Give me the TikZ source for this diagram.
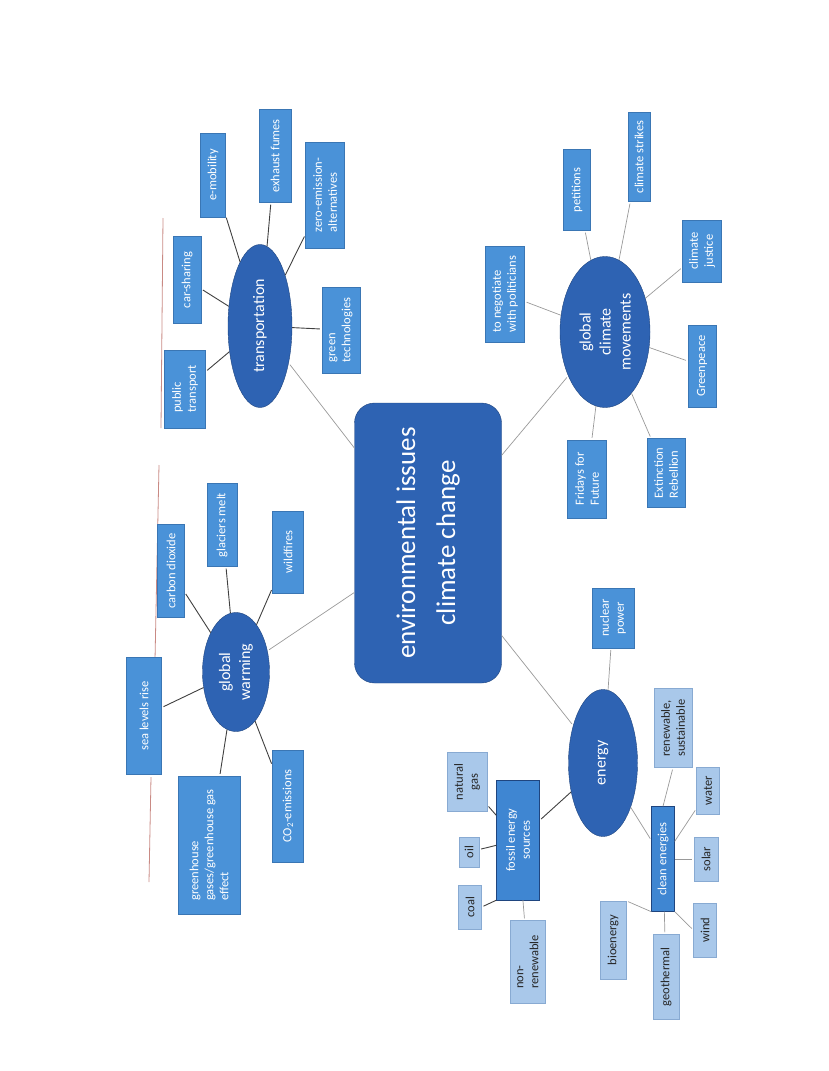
\documentclass[tikz,border=0pt]{standalone}
\usepackage{fontspec}
\setmainfont{Carlito}
\usetikzlibrary{shapes.geometric}

\definecolor{mapdark}{HTML}{2E63B3}
\definecolor{mapedge}{HTML}{1F457F}
\definecolor{mapbox}{HTML}{4A92D8}
\definecolor{mapboxedge}{HTML}{3A76B4}
\definecolor{mapmid}{HTML}{3F86D2}
\definecolor{maplight}{HTML}{A9C8EA}
\definecolor{maplightedge}{HTML}{88AAD2}
\definecolor{marginred}{HTML}{C98A84}

\tikzset{
  hub/.style={rectangle, rounded corners=20pt, draw=mapedge, fill=mapdark, text=white,
    align=center, rotate=90, inner sep=0pt, font=\fontsize{27}{40}\selectfont},
  topic/.style={ellipse, draw=mapedge, fill=mapdark, text=white, align=center,
    rotate=90, inner sep=0pt, font=\fontsize{16}{20}\selectfont},
  leaf/.style={rectangle, draw=mapboxedge, fill=mapbox, text=white, align=center,
    rotate=90, inner sep=0pt, font=\fontsize{12.5}{15}\selectfont},
  midleaf/.style={leaf, draw=mapedge, fill=mapmid},
  lightleaf/.style={leaf, draw=maplightedge, fill=maplight, text=black!85},
  link/.style={draw=black!75, line width=0.9pt, shorten >=2pt},
  thinlink/.style={draw=black!40, line width=0.7pt, shorten >=2pt},
}

\begin{document}
\begin{tikzpicture}[x=1pt, y=-1pt]
    \useasboundingbox (0,0) rectangle (828,1071);
    \draw[marginred, line width=0.8pt] (163,218) -- (161,428);
    \draw[marginred, line width=0.8pt] (159,465) -- (155,660);
    \draw[marginred, line width=0.8pt] (151,777) -- (149,882);

    \node[hub, minimum width=280pt, minimum height=147pt] (hub) at (428,543) {environmental issues\\climate change};

    \node[topic, minimum width=163pt, minimum height=64pt] (trans) at (260,326) {transportation};
    \node[leaf, minimum width=78pt, minimum height=41pt, align=left] (pubtr) at (185,389) {public\\transport};
    \node[leaf, minimum width=87pt, minimum height=28pt] (carsh) at (187,280) {car-sharing};
    \node[leaf, minimum width=84pt, minimum height=25pt] (emob) at (213,175) {e-mobility};
    \node[leaf, minimum width=93pt, minimum height=32pt] (exhaust) at (275,156) {exhaust fumes};
    \node[leaf, minimum width=106pt, minimum height=39pt, align=left] (zeroem) at (325,195) {zero-emission-\\alternatives};
    \node[leaf, minimum width=86pt, minimum height=38pt, align=left] (greentech) at (341,330) {green\\technologies};

    \node[topic, minimum width=119pt, minimum height=67pt] (warm) at (236,672) {global\\warming};
    \node[leaf, minimum width=117pt, minimum height=35pt] (sealvl) at (144,716) {sea levels rise};
    \node[leaf, minimum width=93pt, minimum height=27pt] (carbon) at (171,571) {carbon dioxide};
    \node[leaf, minimum width=83pt, minimum height=30pt] (glacier) at (222,525) {glaciers melt};
    \node[leaf, minimum width=82pt, minimum height=31pt] (fires) at (288,552) {wildfires};
    \node[leaf, minimum width=138pt, minimum height=62pt, align=left] (greenh) at (209,845) {greenhouse\\gases/greenhouse gas\\effect};
    \node[leaf, minimum width=112pt, minimum height=31pt] (coem) at (288,806) {CO\textsubscript{2}-emissions};

    \node[topic, minimum width=151pt, minimum height=90pt] (moves) at (605,332) {global\\climate\\movements};
    \node[leaf, minimum width=96pt, minimum height=39pt, align=left] (negot) at (505,294) {to negotiate\\with politicians};
    \node[leaf, minimum width=81pt, minimum height=27pt] (petit) at (577,190) {petitions};
    \node[leaf, minimum width=89pt, minimum height=22pt] (strikes) at (639,157) {climate strikes};
    \node[leaf, minimum width=62pt, minimum height=39pt] (justice) at (702,251) {climate\\justice};
    \node[leaf, minimum width=82pt, minimum height=28pt] (gpeace) at (702,366) {Greenpeace};
    \node[leaf, minimum width=69pt, minimum height=38pt, align=left] (xr) at (666,473) {Extinction\\Rebellion};
    \node[leaf, minimum width=78pt, minimum height=39pt, align=left] (fff) at (587,479) {Fridays for\\Future};

    \node[topic, minimum width=147pt, minimum height=69pt] (energy) at (603,763) {energy};
    \node[leaf, minimum width=60pt, minimum height=42pt] (nuclear) at (613,618) {nuclear\\power};
    \node[midleaf, minimum width=120pt, minimum height=43pt] (fossil) at (518,840) {fossil energy\\sources};
    \node[lightleaf, minimum width=59pt, minimum height=40pt] (natgas) at (467,782) {natural\\gas};
    \node[lightleaf, minimum width=30pt, minimum height=20pt] (oil) at (469,852) {oil};
    \node[lightleaf, minimum width=44pt, minimum height=23pt] (coal) at (470,907) {coal};
    \node[lightleaf, minimum width=83pt, minimum height=35pt, align=left] (nonren) at (528,962) {non-\\renewable};
    \node[midleaf, minimum width=105pt, minimum height=23pt] (clean) at (663,859) {clean energies};
    \node[lightleaf, minimum width=79pt, minimum height=38pt, align=left] (renew) at (673,728) {renewable,\\sustainable};
    \node[lightleaf, minimum width=47pt, minimum height=23pt] (water) at (708,791) {water};
    \node[lightleaf, minimum width=44pt, minimum height=24pt] (solar) at (706,859) {solar};
    \node[lightleaf, minimum width=54pt, minimum height=23pt] (wind) at (705,930) {wind};
    \node[lightleaf, minimum width=85pt, minimum height=26pt] (geo) at (666,977) {geothermal};
    \node[lightleaf, minimum width=78pt, minimum height=26pt] (bio) at (613,940) {bioenergy};

    \foreach \topicname in {trans,warm,moves,energy}
        \draw[thinlink] (hub) -- (\topicname);
    \foreach \leafname in {pubtr,carsh,emob,exhaust,zeroem,greentech}
        \draw[link] (trans) -- (\leafname);
    \foreach \leafname in {sealvl,carbon,glacier,fires,greenh,coem}
        \draw[link] (warm) -- (\leafname);
    \foreach \leafname in {negot,petit,strikes,justice,gpeace,xr,fff}
        \draw[thinlink] (moves) -- (\leafname);
    \draw[thinlink] (energy) -- (nuclear);
    \draw[link] (energy) -- (fossil);
    \draw[thinlink] (energy) -- (clean);
    \draw[link] (fossil) -- (natgas);
    \draw[link] (fossil) -- (oil);
    \draw[link] (fossil.north west) -- (coal.south);
    \draw[thinlink] (fossil) -- (nonren);
    \draw[thinlink] (clean.east) -- (renew.west);
    \draw[thinlink] (clean) -- (water);
    \draw[thinlink] (clean) -- (solar);
    \draw[thinlink] (clean.south west) -- (wind.north);
    \draw[thinlink] (clean) -- (geo);
    \draw[thinlink] (clean.north west) -- (bio.south east);
\end{tikzpicture}
\end{document}
